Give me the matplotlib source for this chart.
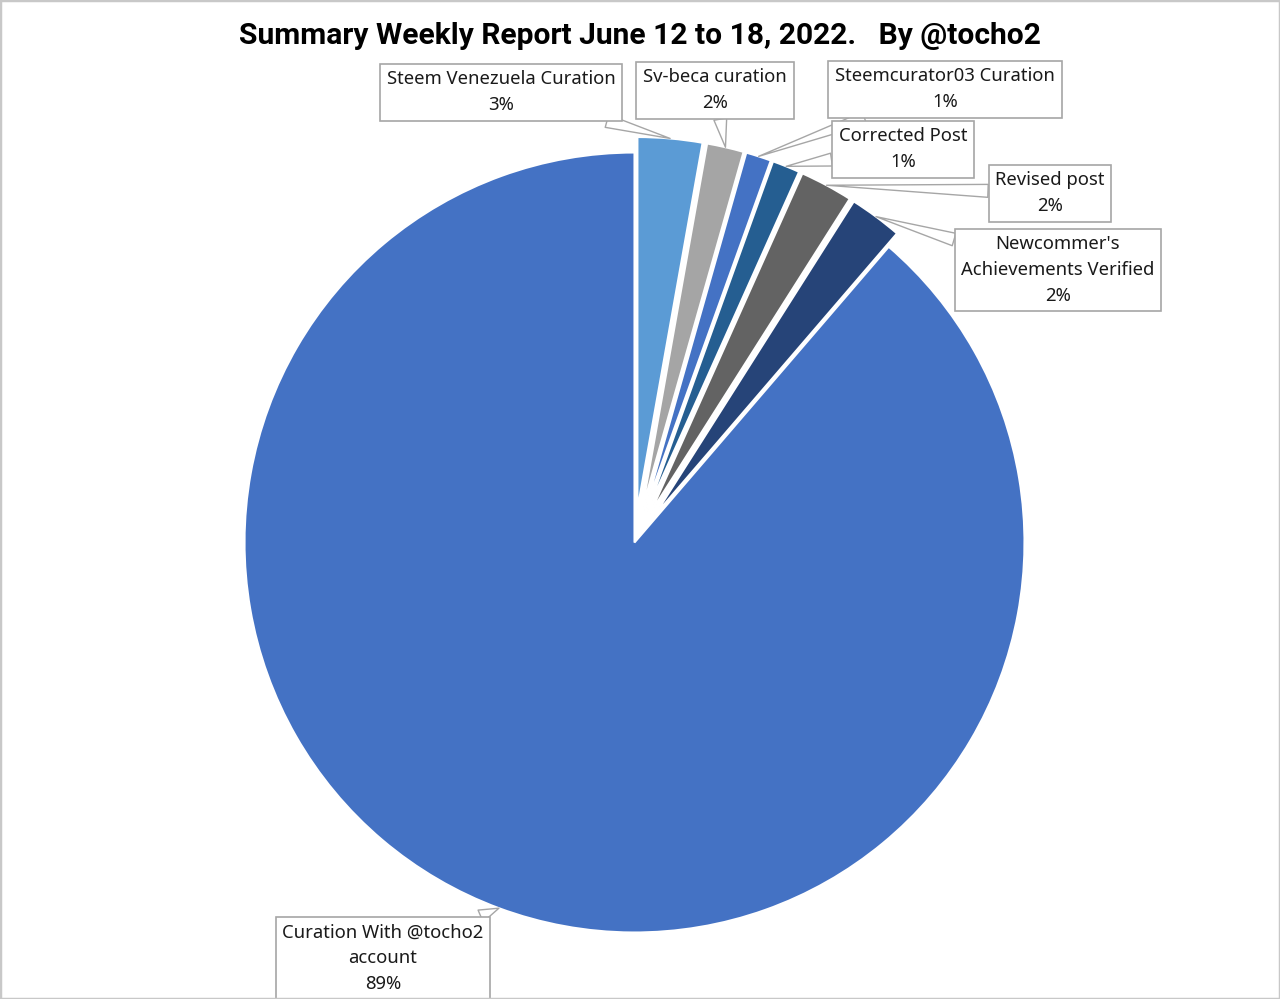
import numpy as np
import matplotlib
matplotlib.use("Agg")
import matplotlib.pyplot as plt
from matplotlib.patches import Rectangle

plt.rcParams['font.family'] = ['Noto Sans', 'DejaVu Sans']

# data (clockwise from 12 o'clock)
labels = ["Steem Venezuela Curation", "Sv-beca curation", "Steemcurator03 Curation",
          "Corrected Post", "Revised post", "Newcommer's\nAchievements Verified",
          "Curation With @tocho2\naccount"]
values = [2.8, 1.6, 1.1, 1.2, 2.3, 2.3, 88.7]
colors = ["#5B9BD5", "#A5A5A5", "#4472C4", "#255E91", "#636363", "#264478", "#4472C4"]
explode = [0.085, 0.085, 0.085, 0.085, 0.085, 0.085, 0]

# label box centres in pixels (from top-left)
box_pos = [(501, 92), (715, 90), (945, 89), (903, 149), (1050, 193), (1058, 270), (383, 958)]

W, H = 1280, 999
fig = plt.figure(figsize=(W / 100, H / 100), dpi=100)
cx, cy, R = 634.5, 542.5, 390
ax = fig.add_axes([(cx - R) / W, (H - cy - R) / H, 2 * R / W, 2 * R / H])

wedges, _ = ax.pie(values, colors=colors, explode=explode, startangle=90, counterclock=False,
                   radius=1, wedgeprops=dict(edgecolor="white", linewidth=1.5))
for w, e in zip(wedges, explode):
    w.set_clip_on(False)
    if e > 0:
        w.set_radius(0.955)
ax.set_xlim(-1, 1)
ax.set_ylim(-1, 1)
ax.set_aspect('equal')
ax.axis('off')

total = sum(values)
for w, lab, v, (px, py) in zip(wedges, labels, values, box_pos):
    ang = np.radians((w.theta1 + w.theta2) / 2)
    tip = (w.center[0] + w.r * np.cos(ang), w.center[1] + w.r * np.sin(ang))
    txt = f"{lab}\n{round(v / total * 100):.0f}%"
    ax.annotate(txt, xy=tip, xytext=(px, H - py), textcoords='figure pixels',
                ha='center', va='center', fontsize=13.3, linespacing=1.55, color='#1a1a1a',
                bbox=dict(boxstyle='square,pad=0.36', fc='white', ec='#A6A6A6', lw=1.2),
                arrowprops=dict(arrowstyle='wedge,tail_width=0.7,shrink_factor=0.5',
                                fc='white', ec='#A6A6A6', lw=1.0, shrinkA=0, shrinkB=0),
                annotation_clip=False)

fig.text(0.5, 1 - 36 / H, "Summary Weekly Report June 12 to 18, 2022.   By @tocho2",
         ha='center', va='center', fontsize=21.6, fontweight='bold',
         family=['Liberation Sans Narrow', 'Roboto', 'DejaVu Sans'])

fig.patches.append(Rectangle((0, 0), 1, 1, transform=fig.transFigure, fill=False,
                             ec='#C8C8C8', lw=2.5))

fig.savefig("out.png", dpi=100)
